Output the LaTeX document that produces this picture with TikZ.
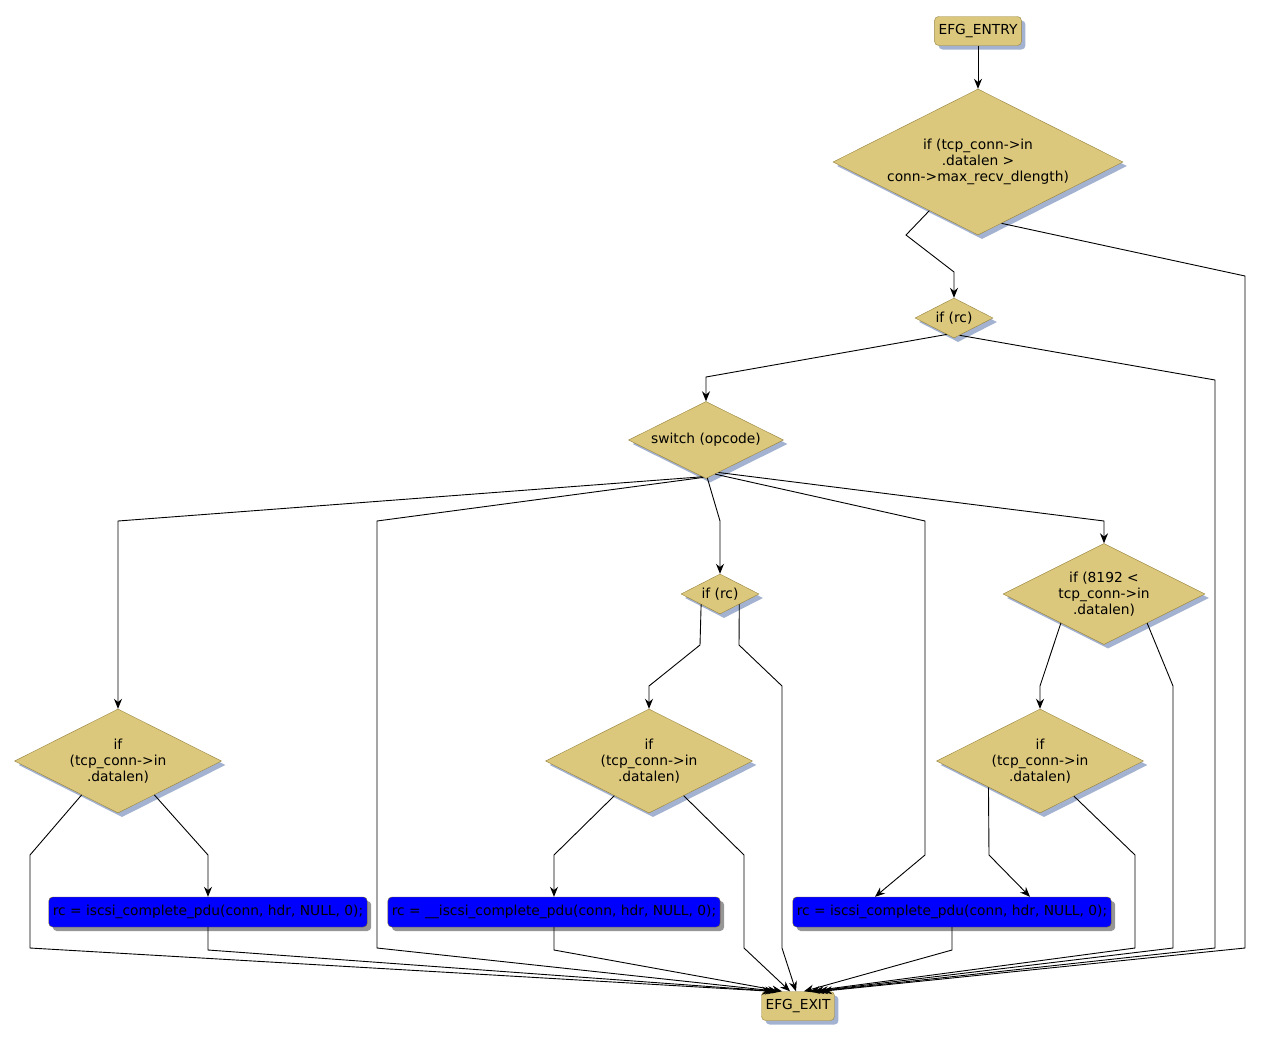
\documentclass[tikz,border=0pt]{standalone}
\usepackage{fontspec}
\setmainfont{DejaVu Sans}
\usetikzlibrary{shapes.geometric,shadows,arrows.meta}
\definecolor{efgfill}{RGB}{220,200,124}
\definecolor{efgline}{RGB}{150,130,60}
\definecolor{efgshadow}{RGB}{163,178,208}
\definecolor{stmtfill}{RGB}{0,0,255}
\definecolor{stmtline}{RGB}{120,100,40}
\definecolor{stmtshadow}{RGB}{150,150,150}
\begin{document}
\begin{tikzpicture}[x=1pt,y=-1pt,
        every node/.style={font=\fontsize{13.8}{16}\selectfont, align=center},
        term/.style={rectangle, rounded corners=4pt, draw=efgline, fill=efgfill,
            minimum height=29pt, inner xsep=4pt,
            drop shadow={shadow xshift=4pt, shadow yshift=-4pt, fill=efgshadow, opacity=1}},
        cond/.style={diamond, aspect=2, inner sep=0pt, draw=efgline, fill=efgfill,
            drop shadow={shadow xshift=4pt, shadow yshift=-4pt, fill=efgshadow, opacity=1}},
        stmt/.style={rectangle, rounded corners=4pt, draw=stmtline, fill=stmtfill,
            minimum height=30pt, inner xsep=4pt,
            drop shadow={shadow xshift=4pt, shadow yshift=-4pt, fill=stmtshadow, opacity=1}},
        flow/.style={-{Stealth[length=10pt,width=8pt]}, line width=0.9pt}]
    \useasboundingbox (0,0) rectangle (1261,1039);

    \node[term] (entry) at (978,31) {EFG\_ENTRY};
    \node[cond, minimum width=290pt, minimum height=146pt] (d1) at (978,162)
        {if (tcp\_conn->in\\.datalen >\\conn->max\_recv\_dlength)};
    \node[cond, minimum width=78pt, minimum height=40pt] (rc1) at (954,318) {if (rc)};
    \node[cond, minimum width=155pt, minimum height=77pt] (sw) at (706,440) {switch (opcode)};
    \node[cond, minimum width=78pt, minimum height=40pt] (rc2) at (720,594) {if (rc)};
    \node[cond, minimum width=202pt, minimum height=101pt] (d8) at (1104,594)
        {if (8192 <\\tcp\_conn->in\\.datalen)};
    \node[cond, minimum width=207pt, minimum height=104pt] (dl) at (118,761)
        {if\\(tcp\_conn->in\\.datalen)};
    \node[cond, minimum width=207pt, minimum height=104pt] (dm) at (649,761)
        {if\\(tcp\_conn->in\\.datalen)};
    \node[cond, minimum width=207pt, minimum height=104pt] (dr) at (1040,761)
        {if\\(tcp\_conn->in\\.datalen)};
    \node[stmt] (st1) at (208,912) {rc = iscsi\_complete\_pdu(conn, hdr, NULL, 0);};
    \node[stmt] (st2) at (554,912) {rc = \_\_iscsi\_complete\_pdu(conn, hdr, NULL, 0);};
    \node[stmt] (st3) at (952,912) {rc = iscsi\_complete\_pdu(conn, hdr, NULL, 0);};
    \node[term] (exit) at (798,1006) {EFG\_EXIT};

    \draw[flow] (entry) -- (d1);
    \draw[flow] (d1.225) -- (906,235) -- (954,272) -- (rc1);
    \draw[flow] (d1.291) -- (1245,276) -- (1245,948) -- ([xshift=24pt]exit.north);
    \draw[flow] (rc1.246) -- (706,377) -- (sw);
    \draw[flow] (rc1.288) -- (1215,380) -- (1215,948) -- ([xshift=20pt]exit.north);
    \draw[flow] (sw.264) -- (118,521) -- (dl);
    \draw[flow] (sw.266) -- (377,521) -- (377,948) -- ([xshift=-20pt]exit.north);
    \draw[flow] (sw.272) -- (720,521) -- (rc2);
    \draw[flow] (sw.285) -- (925,521) -- (925,855) -- ([xshift=-77pt]st3.north);
    \draw[flow] (sw.291) -- (1104,521) -- (d8);
    \draw[flow] (rc2.209) -- (700,645) -- (649,686) -- (dm);
    \draw[flow] (rc2.332) -- (739,645) -- (782,686) -- (782,948) -- ([xshift=-2pt]exit.north);
    \draw[flow] (d8.214) -- (1040,686) -- (dr);
    \draw[flow] (d8.326) -- (1173,686) -- (1173,948) -- ([xshift=16pt]exit.north);
    \draw[flow] (dl.223) -- (30,855) -- (30,948) -- ([xshift=-26pt]exit.north);
    \draw[flow] (dl.317) -- (208,855) -- (st1);
    \draw[flow] (st1) -- (208,950) -- ([xshift=-23pt]exit.north);
    \draw[flow] (dm.225) -- (554,855) -- (st2);
    \draw[flow] (dm.315) -- (744,855) -- (744,948) -- ([xshift=-8pt]exit.north);
    \draw[flow] (st2) -- (554,950) -- ([xshift=-16pt]exit.north);
    \draw[flow] (dr.207) -- (989,855) -- ([xshift=78pt]st3.north);
    \draw[flow] (dr.314) -- (1135,855) -- (1135,948) -- ([xshift=12pt]exit.north);
    \draw[flow] (st3) -- (952,950) -- ([xshift=6pt]exit.north);
\end{tikzpicture}
\end{document}
